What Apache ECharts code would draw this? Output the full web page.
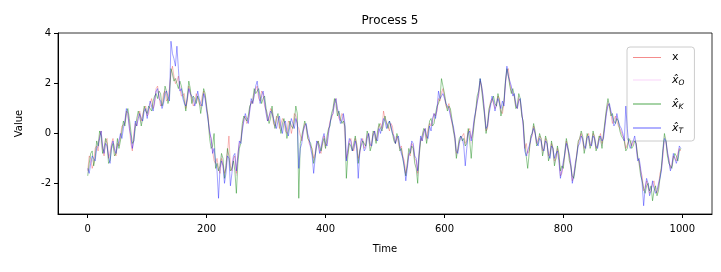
<!DOCTYPE html>
<html>
<head>
<meta charset="utf-8">
<script src="https://cdn.jsdelivr.net/npm/echarts@6/dist/echarts.min.js"></script>
<style>html,body{margin:0;padding:0;background:#fff}#c{width:721px;height:272px}</style>
</head>
<body>
<div id="c"></div>
<script>
// Sampling steps (time units between stored values)
const STEP_FINE = 2.5;
const STEP_COARSE = 5;
const xTicks = [0, 200, 400, 600, 800, 1000];
const yTicks = [-2, 0, 2, 4];
const seriesNames = ['x', 'x\u0302_O', 'x\u0302_K', 'x\u0302_T'];

const xTrue = [
-1.5,-0.9,-1.0,-1.4,-1.2,-0.6,-0.5,-0.7,-0.1,0.1,-0.6,-0.9,-0.3,-0.2,-1.0,-0.8,-0.4,-0.2,-0.7,-0.9,
-0.4,-0.5,-0.1,0.3,0.3,0.4,0.9,0.8,0.3,-0.4,-0.7,0.0,0.4,0.3,0.7,0.9,0.5,0.5,1.0,1.1,
0.7,0.8,1.2,1.4,1.0,1.2,1.8,1.9,1.5,1.1,1.2,1.6,1.7,1.3,1.4,1.8,2.4,2.7,2.3,2.0,
2.1,2.3,1.8,1.5,1.5,1.6,1.0,1.3,1.9,1.9,1.4,1.1,1.2,1.6,1.6,1.2,1.1,1.5,1.7,1.5,
1.0,0.7,0.0,-0.2,-0.7,-1.1,-1.2,-1.0,-1.4,-1.6,-1.0,-1.0,-1.6,-1.4,-0.8,-0.1,-1.3,-1.5,-1.0,-0.9,
-1.6,-0.8,-0.4,-0.3,0.2,0.6,0.7,0.4,0.5,1.0,1.3,1.2,1.6,1.8,1.9,1.4,1.3,1.7,1.6,1.1,
0.9,0.5,0.6,1.0,0.9,0.4,0.3,0.7,0.6,0.2,0.2,0.6,0.5,0.1,0.0,0.5,0.4,0.0,0.3,0.8,
0.7,0.3,0.2,0.2,-0.3,0.1,0.4,0.3,-0.1,-0.4,-0.5,-0.6,-1.0,-0.8,-0.4,-0.3,-0.7,-0.8,-0.3,-0.1,
-0.5,-0.4,0.1,0.5,0.6,0.8,1.3,1.4,0.9,0.6,0.5,0.8,0.7,0.2,-1.0,-0.8,-0.3,-0.2,-0.6,-0.7,
-0.2,-0.4,-1.0,-0.8,-0.3,-0.2,-0.6,-0.5,-0.1,0.0,-0.5,-0.4,0.0,0.1,-0.3,-0.1,0.3,0.4,0.2,0.9,
0.6,0.6,0.3,0.1,0.4,0.3,-0.2,-0.4,-0.1,-0.1,-0.6,-0.5,-0.9,-1.1,-1.6,-1.3,-0.8,-0.9,-0.4,-0.5,
-1.0,-1.1,-1.6,-0.8,-0.2,-0.3,0.1,0.2,-0.2,0.2,0.4,0.3,0.5,0.8,0.7,0.9,1.4,1.3,1.6,1.8,
1.5,1.1,1.0,1.2,0.8,0.4,0.2,-0.1,-0.8,-0.7,-0.3,-0.3,-0.1,0.0,-0.4,-0.3,0.1,0.2,-0.2,0.0,
0.5,0.8,1.3,1.5,2.1,1.9,1.4,0.9,0.1,0.2,0.9,1.3,1.4,1.4,1.0,1.1,1.5,1.4,0.9,0.8,
1.2,2.0,2.5,2.6,2.0,1.7,1.6,1.5,1.1,1.0,1.4,1.3,0.8,0.4,-0.6,-0.4,-0.8,-0.7,-0.2,-0.1,
0.3,0.0,-0.4,-0.4,-0.1,-0.2,-0.7,-0.6,-0.2,-0.4,-0.9,-0.8,-0.4,-0.6,-1.1,-1.0,-0.6,-0.9,-1.7,-1.6,
-1.2,-0.9,-0.3,-0.3,-0.9,-1.3,-1.9,-1.7,-1.3,-0.8,-0.4,-0.4,0.0,0.0,-0.6,-0.5,-0.1,0.0,-0.5,-0.4,
0.0,-0.1,-0.6,-0.5,-0.2,0.0,-0.4,-0.1,0.4,0.9,1.2,1.1,0.8,0.4,0.4,0.7,0.7,0.3,0.2,0.2,
-0.1,-0.2,-0.6,-0.6,-0.3,-0.2,-0.5,-0.5,-0.2,-0.4,-1.0,-1.1,-1.5,-1.7,-2.3,-2.2,-1.9,-1.9,-2.4,-2.3,
-2.0,-1.9,-2.3,-2.4,-2.1,-1.6,-1.4,-0.9,-0.1,-0.2,-0.8,-1.0,-1.4,-1.3,-0.9,-0.9,-1.1,-0.8,-0.6,-0.7
];

const xHatO = [
-1.6,-1.1,-1.1,-0.4,-0.2,-0.7,-0.3,-0.9,-0.5,-0.7,
-0.3,-0.2,0.3,0.8,0.4,-0.6,0.3,0.8,0.4,1.0,
0.8,1.1,1.1,1.7,1.6,1.1,1.8,1.3,2.5,2.2,
2.2,1.9,1.5,1.1,1.8,1.3,1.3,1.5,1.0,1.6,
1.1,0.1,-0.6,-1.3,-1.5,-0.9,-1.7,-0.7,-1.4,-1.0,
-1.7,-0.5,0.3,0.6,0.6,1.2,1.7,1.8,1.4,1.5,
1.0,0.5,1.0,0.2,0.7,0.1,0.5,0.1,0.4,0.2,
0.8,0.0,-0.2,0.3,-0.1,-0.6,-1.1,-0.4,-0.6,-0.3,
-0.6,0.2,0.7,1.2,0.8,0.5,0.6,-1.1,-0.3,-0.7,
-0.2,-1.1,-0.4,-0.5,0.0,-0.6,0.0,-0.3,0.3,0.1,
0.7,0.2,0.4,-0.2,-0.1,-0.7,-0.9,-1.7,-0.7,-0.4,
-1.1,-1.7,-0.2,0.1,-0.3,0.4,0.4,0.7,1.3,1.7,
1.5,1.0,0.9,0.1,-0.9,-0.3,-0.2,-0.5,0.1,-0.4,
0.4,1.4,2.1,1.3,0.1,0.9,1.4,1.1,1.5,0.8,
1.2,2.5,2.0,1.7,1.1,1.5,0.8,-0.5,-0.9,-0.2,
0.3,-0.4,-0.1,-0.8,-0.2,-1.0,-0.4,-1.2,-0.6,-1.6,
-1.3,-0.3,-1.0,-1.8,-1.3,-0.4,0.0,-0.7,-0.1,-0.5,
0.0,-0.6,-0.2,-0.5,0.4,1.3,0.8,0.4,0.7,0.2,
-0.1,-0.6,-0.3,-0.5,-0.2,-1.0,-1.6,-2.2,-2.0,-2.3,
-2.1,-2.2,-2.2,-1.4,-0.1,-0.8,-1.4,-0.9,-1.0,-0.6
];

const xHatK = [
-1.7,-1.2,-0.8,-0.7,-1.3,-1.0,-0.3,-0.5,0.1,-0.1,-0.8,-0.6,-0.2,-0.4,-1.2,-1.1,-0.6,-0.4,-0.9,-0.8,
-0.2,-0.6,-0.3,0.1,0.5,0.3,0.8,1.0,0.6,0.1,-0.4,-0.3,0.2,0.6,0.9,0.7,0.3,0.6,1.1,0.9,
0.8,1.1,1.0,0.9,1.3,1.5,1.6,1.4,1.7,1.6,1.1,1.3,1.9,1.7,1.2,1.5,2.6,2.4,2.1,2.2,
2.0,1.8,2.1,1.9,1.6,1.3,0.9,1.5,2.1,1.8,1.2,1.5,1.4,1.2,1.5,1.3,0.8,1.2,1.8,1.6,
1.1,0.6,-0.2,-0.6,-0.5,0.0,-1.4,-1.2,-1.5,-1.3,-0.8,-1.0,-1.8,-1.3,-0.6,-0.9,-1.5,-1.4,-1.1,-1.5,
-2.4,-1.2,-0.6,-0.4,0.4,0.7,0.6,0.5,0.7,1.1,1.2,1.3,1.8,1.6,1.7,1.8,1.5,1.2,1.4,1.5,
1.0,0.7,0.4,0.6,1.1,0.5,0.2,0.6,0.8,0.4,0.0,0.4,0.6,0.3,-0.2,0.1,0.5,0.3,0.2,0.5,
1.1,0.8,-2.6,-0.4,-0.1,0.2,0.5,0.3,-0.2,-0.2,-0.4,-0.7,-1.2,-0.9,-0.5,-0.3,-0.5,-0.7,-0.4,-0.2,
-0.6,-0.1,0.2,0.3,0.8,1.0,1.4,1.2,0.7,0.9,0.6,0.4,0.5,0.3,-1.8,-0.9,-0.4,-0.5,-0.7,-0.4,
-0.1,-0.5,-1.2,-0.7,-0.5,-0.3,-0.4,-0.5,0.1,-0.1,-0.7,-0.5,0.1,0.0,-0.4,0.1,0.4,0.2,0.1,0.4,
0.7,0.4,0.2,0.5,0.5,0.0,-0.3,-0.4,0.0,-0.2,-0.7,-0.6,-1.0,-1.4,-1.7,-1.2,-0.6,-0.8,-0.5,-0.6,
-1.2,-1.4,-2.0,-0.9,-0.3,-0.1,0.2,0.1,-0.4,0.0,0.5,0.6,0.3,0.4,0.8,1.1,1.2,1.4,2.2,1.9,
1.6,1.2,0.9,1.1,1.0,0.6,0.1,-0.2,-1.0,-0.6,-0.2,-0.1,-0.3,-0.2,-0.5,-0.4,0.2,-0.3,-1.0,-0.2,
0.4,0.9,1.5,1.7,2.2,1.8,1.2,0.7,0.0,0.4,1.0,1.2,1.3,1.5,1.2,1.1,1.6,1.3,0.7,1.0,
1.3,2.1,2.6,2.3,1.9,1.6,1.8,1.5,1.0,1.1,1.6,1.4,0.7,0.5,-0.4,-0.9,-1.4,-0.8,-0.1,0.0,
0.4,0.1,-0.5,-0.4,0.0,-0.2,-0.9,-0.6,-0.1,-0.3,-1.1,-0.9,-0.3,-0.6,-1.3,-1.0,-0.5,-0.8,-1.5,-1.3,
-1.4,-0.7,-0.2,-0.5,-1.1,-1.3,-1.7,-1.8,-1.4,-0.9,-0.3,-0.2,0.1,-0.1,-0.8,-0.5,0.0,-0.2,-0.6,-0.4,
0.1,-0.2,-0.7,-0.5,-0.1,-0.2,-0.6,0.0,0.5,1.0,1.4,1.1,0.7,0.8,0.5,0.4,0.6,0.5,0.1,-0.1,
-0.2,-0.3,-0.7,-0.6,-0.2,-0.3,-0.6,-0.5,-0.3,-0.4,-0.9,-1.2,-1.7,-1.9,-2.2,-2.4,-2.1,-2.0,-2.3,-2.1,
-2.7,-2.3,-2.1,-2.5,-2.3,-1.8,-1.3,-0.6,0.0,-0.3,-0.9,-1.2,-1.3,-1.4,-1.0,-0.8,-0.9,-1.1,-0.7,-0.6
];

const xHatT = [
-1.4,-1.6,-1.2,-0.9,-1.0,-1.1,-0.6,-0.5,-0.2,0.1,-0.5,-0.8,-0.4,-0.5,-0.9,-1.2,-0.5,-0.3,-0.6,-0.8,
-0.5,-0.3,0.0,-0.2,0.2,0.5,1.0,0.8,0.2,-0.1,-0.6,-0.3,0.5,0.3,0.6,0.8,0.6,0.5,0.9,1.0,
0.6,1.0,1.3,1.1,0.9,1.3,1.7,1.8,1.4,1.3,1.0,1.2,1.6,1.7,1.5,1.3,3.7,3.2,3.0,2.7,
3.5,2.6,1.7,1.8,1.4,1.2,1.1,1.4,1.8,1.6,1.5,1.4,1.1,1.3,1.7,1.4,1.2,1.1,1.6,1.4,
0.9,0.5,0.1,-0.2,-0.8,-0.6,-1.1,-1.5,-2.6,-1.4,-1.1,-1.3,-2.0,-1.6,-0.9,-1.0,-2.1,-1.6,-0.9,-0.8,
-1.5,-0.9,-0.3,-0.4,0.1,0.5,0.8,0.6,0.4,0.9,1.4,1.2,1.5,1.9,2.1,1.6,1.2,1.5,1.7,1.3,
0.8,0.5,0.7,0.9,0.8,0.6,0.4,0.2,0.5,0.7,0.3,0.0,0.4,0.5,0.1,-0.1,0.3,0.6,0.4,0.2,
0.6,0.4,-1.4,-0.6,-0.4,0.1,0.3,0.4,0.0,-0.2,-0.6,-0.9,-1.6,-1.0,-0.3,-0.4,-0.8,-0.6,-0.2,0.0,
-0.4,-0.5,0.0,0.4,0.7,0.8,1.2,1.4,1.0,0.8,0.4,0.5,0.8,0.4,-1.1,-0.6,-0.2,-0.3,-0.7,-0.6,
-0.3,-0.6,-1.8,-0.8,-0.2,-0.3,-0.7,-0.6,-0.2,0.0,-0.4,-0.5,-0.1,0.1,-0.2,-0.3,0.2,0.0,0.3,0.6,
0.5,0.2,0.4,0.5,0.3,0.0,-0.1,-0.4,-0.2,-0.1,-0.5,-0.8,-1.0,-1.3,-1.9,-1.4,-0.9,-0.7,-0.3,-0.4,
-0.9,-1.0,-1.5,-0.7,-0.1,-0.3,0.0,0.2,-0.1,-0.2,0.3,0.1,0.6,0.8,0.6,1.0,1.7,1.4,1.5,1.6,
1.4,1.2,1.1,1.0,0.7,0.5,0.3,-0.1,-0.7,-0.8,-0.4,-0.1,-0.2,-0.5,-1.3,-0.6,0.0,0.1,-0.3,0.1,
0.6,0.9,1.2,1.6,2.2,1.9,1.5,0.8,0.2,0.3,0.8,1.1,1.5,1.3,0.9,1.2,1.4,1.2,1.0,1.3,
1.1,2.0,2.7,2.3,2.1,1.9,1.5,1.6,1.2,1.0,1.3,1.4,0.9,0.3,-0.7,-0.9,-0.7,-0.5,-0.3,0.0,
0.2,0.0,-0.3,-0.5,-0.2,-0.3,-0.6,-0.7,-0.3,-0.4,-0.8,-1.0,-0.5,-0.6,-1.0,-0.8,-0.7,-1.1,-1.8,-1.5,
-1.1,-0.8,-0.4,-0.4,-0.8,-1.2,-2.0,-1.7,-1.2,-0.9,-0.5,-0.4,-0.1,-0.2,-0.5,-0.6,-0.2,-0.1,-0.4,-0.5,
-0.1,-0.2,-0.5,-0.6,-0.3,-0.1,-0.3,-0.2,0.3,0.8,1.1,1.2,0.9,0.7,0.3,0.4,0.8,0.5,0.3,0.2,
0.0,-0.3,1.1,0.2,-0.4,-0.6,-0.4,-0.3,-0.1,-0.5,-1.1,-1.0,-1.4,-2.0,-2.9,-2.2,-1.8,-2.0,-2.5,-2.3,
-1.9,-2.2,-2.4,-2.3,-2.0,-1.8,-1.5,-0.7,-0.2,-0.3,-0.7,-1.1,-1.5,-1.3,-0.8,-0.8,-1.2,-1.0,-0.5,-0.6
];

const FONT = 'DejaVu Sans';
function pairs(arr, step) { return arr.map((v, i) => [i * step, v]); }

const colors = [
  'rgba(230,0,0,0.45)',
  'rgba(238,130,238,0.35)',
  'rgba(0,128,0,0.7)',
  'rgba(0,0,255,0.62)'
];
const dataSets = [xTrue, xHatO, xHatK, xHatT];
const steps = [STEP_FINE, STEP_COARSE, STEP_FINE, STEP_FINE];
const axisBlack = { color: '#000', width: 1 };

const chart = echarts.init(document.getElementById('c'), null, { renderer: 'canvas' });
chart.setOption({
  animation: false,
  backgroundColor: '#fff',
  title: {
    text: 'Process 5',
    left: 385, top: 10, textAlign: 'center',
    textStyle: { fontFamily: FONT, fontSize: 12, fontWeight: 'normal', color: '#000' }
  },
  grid: {
    left: 58, right: 9, top: 33, bottom: 58,
    show: true, borderColor: '#000', borderWidth: 0.8, backgroundColor: 'transparent'
  },
  legend: {
    orient: 'vertical',
    left: 627, top: 47,
    padding: [5, 10, 6, 6],
    icon: 'rect',
    itemWidth: 28, itemHeight: 1, itemGap: 10,
    backgroundColor: 'rgba(255,255,255,0.8)',
    borderColor: '#cccccc', borderWidth: 1, borderRadius: 3,
    data: seriesNames,
    formatter: function (name) {
      if (name === 'x') return '{p|x}';
      const parts = name.split('_');
      return '{m|' + parts[0] + '}{s|' + parts[1] + '}';
    },
    textStyle: {
      fontFamily: FONT, fontSize: 11, color: '#000', padding: [0, 0, 0, 6],
      rich: {
        p: { fontFamily: FONT, fontSize: 11, color: '#000', lineHeight: 14 },
        m: { fontFamily: FONT, fontSize: 11, fontStyle: 'italic', color: '#000', lineHeight: 14 },
        s: { fontFamily: FONT, fontSize: 7.5, fontStyle: 'italic', color: '#000', lineHeight: 14, padding: [6, 0, 0, 0] }
      }
    }
  },
  xAxis: {
    type: 'value', min: -50, max: 1050,
    name: 'Time', nameLocation: 'middle', nameGap: 30,
    nameTextStyle: { fontFamily: FONT, fontSize: 10, color: '#000' },
    axisLine: { show: true, onZero: false, lineStyle: axisBlack },
    axisTick: { show: true, length: 4, inside: false, customValues: xTicks, lineStyle: axisBlack },
    axisLabel: { customValues: xTicks, margin: 10, fontFamily: FONT, fontSize: 10, color: '#000', formatter: v => String(v) },
    splitLine: { show: false }
  },
  yAxis: {
    type: 'value', min: -3.23, max: 4.03,
    name: 'Value', nameLocation: 'middle', nameGap: 34,
    nameTextStyle: { fontFamily: FONT, fontSize: 10, color: '#000' },
    axisLine: { show: true, onZero: false, lineStyle: axisBlack },
    axisTick: { show: true, length: 4, inside: false, customValues: yTicks, lineStyle: axisBlack },
    axisLabel: { customValues: yTicks, margin: 7, fontFamily: FONT, fontSize: 10, color: '#000', formatter: v => String(v) },
    splitLine: { show: false }
  },
  series: seriesNames.map((n, k) => ({
    name: n,
    type: 'line',
    data: pairs(dataSets[k], steps[k]),
    symbol: 'none',
    showSymbol: false,
    lineStyle: { width: 0.6, color: colors[k] },
    itemStyle: { color: colors[k] },
    z: 2 + k
  }))
});
</script>
</body>
</html>
